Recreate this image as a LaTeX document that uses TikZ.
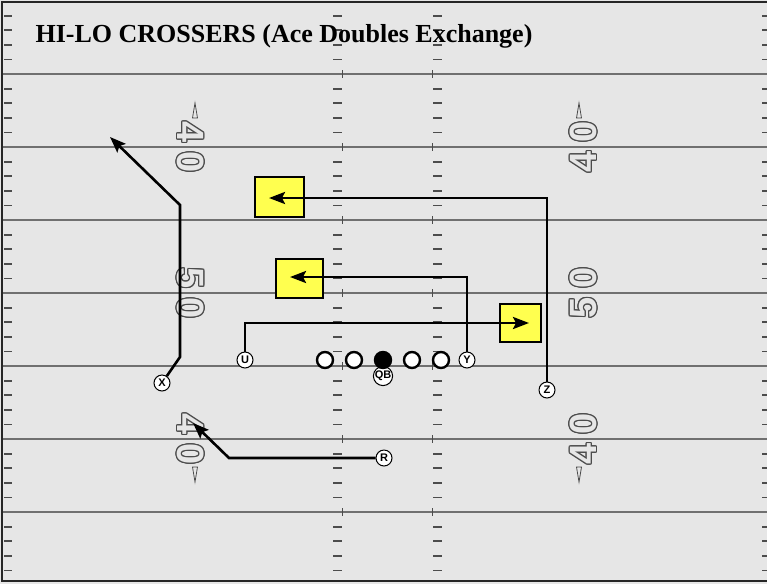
\documentclass[tikz,border=0pt]{standalone}
\usepackage{fontspec}
\setmainfont{Liberation Serif}
\setsansfont{Liberation Sans}
\usepackage{xcolor}
\usepackage{contour}
\usepackage{tikz}
\usetikzlibrary{arrows.meta,calc,positioning}
\definecolor{turf}{HTML}{E6E6E6}
\definecolor{chalk}{HTML}{707070}
\definecolor{hilite}{HTML}{FFFF4F}
\contourlength{1.1pt}
\newcommand{\yardnum}[1]{\contour{black!70}{\textcolor{turf}{#1}}}

\begin{document}
\begin{tikzpicture}[x=1pt,y=-1pt,>={Stealth[length=16pt,width=12pt,inset=3pt]},
  player/.style={circle,draw,line width=2.4pt,fill=white,minimum size=16pt,inner sep=0pt},
  tag/.style={circle,draw,line width=1pt,fill=white,minimum size=16pt,inner sep=0pt,font=\sffamily\bfseries\fontsize{11}{11}\selectfont},
  route/.style={line width=2.6pt},
  zone/.style={draw,line width=1.8pt,fill=hilite,inner sep=0pt},
  digit/.style={inner sep=0pt,font=\sffamily\bfseries\fontsize{38}{38}\selectfont}]
  \useasboundingbox (0,0) rectangle (767,584);
  \fill[turf] (0,0) rectangle (767,584);
  \foreach \j in {0,...,6} {
    \draw[chalk,line width=1.8pt] (2,{74+73*\j}) -- (767,{74+73*\j});
    \draw[black!70,line width=1pt] (342,{70+73*\j}) -- (342,{78+73*\j});
    \draw[black!70,line width=1pt] (432,{70+73*\j}) -- (432,{78+73*\j});
  }
  \foreach \j in {-1,...,6} \foreach \k in {1,...,4} {
    \draw[black!70,line width=1.8pt] (4,{74+73*\j+14.6*\k}) -- (12,{74+73*\j+14.6*\k});
    \draw[black!70,line width=1.8pt] (333,{74+73*\j+14.6*\k}) -- (342,{74+73*\j+14.6*\k});
    \draw[black!70,line width=1.8pt] (433,{74+73*\j+14.6*\k}) -- (442,{74+73*\j+14.6*\k});
    \draw[black!70,line width=1.8pt] (762,{74+73*\j+14.6*\k}) -- (767,{74+73*\j+14.6*\k});
  }
  \draw[black!85,line width=2.5pt] (767,2) -- (2,2) -- (2,581) -- (767,581);
  \node[anchor=base west,font=\bfseries\fontsize{26}{26}\selectfont] (title) at (32,42) {HI-LO CROSSERS (Ace Doubles Exchange)};
  \foreach \yy/\a in {147/4,293/5,439/4} {
    \node[digit,rotate=-90] (l\yy a) at (190,\yy-15) {\yardnum{\a}};
    \node[digit,rotate=-90] (l\yy b) at (190,\yy+15) {\yardnum{0}};
    \node[digit,rotate=90] (r\yy a) at (584,\yy-15) {\yardnum{0}};
    \node[digit,rotate=90] (r\yy b) at (584,\yy+15) {\yardnum{\a}};
  }
  \foreach \xx in {195,579} {
    \draw[black!70,line width=0.8pt] (\xx-2.5,118) -- (\xx,103) -- (\xx+2.5,118) -- cycle;
    \draw[black!70,line width=0.8pt] (\xx-2.5,467) -- (\xx,482) -- (\xx+2.5,467) -- cycle;
  }
  \node[zone,minimum width=49pt,minimum height=40pt] (zbox) at (279.5,197) {};
  \node[zone,minimum width=47pt,minimum height=39pt] (ybox) at (299.5,278.5) {};
  \node[zone,minimum width=41pt,minimum height=38pt] (ubox) at (520.5,323) {};
  \node[player] (lt) at (325,360) {};
  \node[player] (lg) at (354,360) {};
  \node[tag] (qb) at (383,376) {QB};
  \node[player,fill=black] (c) at (383,360) {};
  \node[player] (rg) at (412,360) {};
  \node[player] (rt) at (441,360) {};
  \node[tag] (u) at (245,360) {U};
  \node[tag] (y) at (467,360) {Y};
  \node[tag] (x) at (162,383) {X};
  \node[tag] (z) at (547,390) {Z};
  \node[tag] (r) at (384,458) {R};
  \coordinate (xtip) at (110,137);
  \coordinate (ztip) at (269,198);
  \coordinate (ytip) at (290,277);
  \coordinate (utip) at (529,323);
  \coordinate (rtip) at (193,423);
  \draw[route,->] (x) -- (180,357) -- (180,205) -- (xtip);
  \draw[route,->] (z) |- (ztip);
  \draw[route,->] (y) |- (ytip);
  \draw[route,->] (u) |- (utip);
  \draw[route,->] (r) -- (229,458) -- (rtip);
\end{tikzpicture}
\end{document}
